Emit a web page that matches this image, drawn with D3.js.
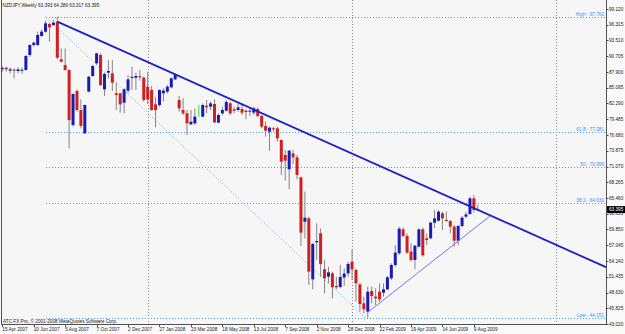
<!DOCTYPE html>
<html>
<head>
<meta charset="utf-8">
<script src="https://cdn.jsdelivr.net/npm/d3@7"></script>
<style>
  html, body { margin: 0; padding: 0; background: #ffffff; }
  svg { display: block; font-family: "Liberation Sans", Arial, sans-serif; }
</style>
</head>
<body>
<div id="chart"></div>
<script>
// weekly NZDJPY bars, one entry per week (index 0 = 15 Apr 2007)
const opens  = [88.40,88.67,88.14,88.32,88.08,88.20,88.26,90.93,92.71,92.71,94.31,95.08,96.45,96.27,96.86,90.16,89.15,88.26,78.46,84.52,
                81.13,76.98,84.40,87.19,89.44,90.93,84.81,87.78,87.66,84.10,84.10,82.44,84.58,86.85,86.89,87.15,86.89,85.29,84.69,82.14,
                82.02,84.10,84.40,85.17,86.59,82.91,81.13,80.54,78.58,78.76,80.90,79.95,81.90,81.73,82.20,78.88,80.54,81.01,82.32,81.25,
                81.13,81.31,81.01,80.84,80.66,81.31,80.06,78.28,77.27,77.87,77.87,75.79,73.12,70.57,73.41,72.70,69.14,61.24,61.84,50.97,
                57.56,59.17,52.76,51.45,52.04,49.79,49.61,51.30,52.04,54.12,52.64,50.09,46.70,45.22,48.90,47.89,48.78,48.60,49.19,51.15,
                53.53,55.61,59.88,58.69,55.91,54.42,56.79,59.88,58.28,58.28,61.07,61.42,62.73,61.54,61.36,60.35,57.86,60.47,62.14,62.61,
                65.40,63.393];
const highs  = [88.85,88.85,88.73,88.55,88.73,88.73,90.93,92.83,93.30,95.08,95.50,97.04,96.68,97.16,97.76,92.11,92.11,88.37,84.10,84.81,
                83.03,82.14,87.19,89.15,91.34,91.22,87.78,90.04,90.04,86.00,84.22,84.99,87.37,88.85,87.78,88.26,87.07,87.96,85.41,83.39,
                84.81,84.99,85.59,86.95,87.66,83.63,83.21,81.13,81.13,81.43,82.02,82.32,82.91,82.62,83.03,80.54,81.73,82.91,82.62,81.73,
                82.32,82.32,81.25,81.43,81.73,81.55,80.24,79.05,78.16,78.16,78.16,75.91,74.01,74.01,74.01,73.12,69.26,66.59,62.14,57.51,
                60.95,60.06,54.42,53.23,52.34,51.45,53.53,52.93,54.12,56.32,52.93,50.26,47.89,49.67,49.67,49.37,50.26,50.26,51.57,53.83,
                57.09,60.35,60.24,59.17,57.39,57.09,60.06,60.24,59.17,61.25,63.32,63.32,63.03,63.03,61.54,60.65,60.65,62.25,63.03,65.70,
                65.99,64.286];
const lows   = [87.96,87.96,87.66,86.77,87.66,87.54,88.14,90.63,92.41,92.53,94.19,94.91,93.30,96.09,90.16,89.56,88.14,74.31,78.16,80.84,
                77.87,76.86,84.28,87.07,89.15,85.41,83.63,86.77,84.52,81.13,80.66,80.54,84.10,84.69,84.69,86.36,82.62,82.20,81.01,78.05,
                81.73,82.62,84.10,85.00,86.48,80.84,80.24,76.68,78.46,78.46,79.95,79.83,80.54,81.13,78.76,78.76,80.24,80.84,80.24,80.54,
                80.84,80.24,79.47,80.06,80.24,79.83,77.87,76.38,73.89,77.27,75.49,69.56,68.55,67.00,71.51,68.79,56.91,58.28,49.97,49.19,
                54.42,51.45,48.48,50.26,47.59,49.19,49.40,49.79,51.45,50.86,46.99,45.22,44.92,44.151,46.70,46.40,46.99,47.89,49.08,50.86,
                53.23,55.31,58.46,55.49,54.12,52.76,56.62,55.01,57.09,58.10,60.06,61.25,59.76,61.25,59.17,56.79,57.09,60.24,61.84,62.43,
                62.85,63.317];
const closes = [88.65,88.37,88.37,88.20,88.37,88.30,90.75,92.71,93.12,94.49,95.08,96.57,95.85,96.68,90.45,89.74,88.26,79.35,83.98,81.13,
                78.28,82.02,87.07,88.97,91.22,85.58,87.54,88.08,86.00,83.80,82.14,84.81,86.59,87.05,87.19,86.95,82.91,83.03,81.13,81.13,
                84.69,84.58,85.29,86.77,87.54,81.43,80.54,78.76,79.05,79.95,80.90,82.02,81.61,82.32,78.94,80.24,81.13,82.56,80.54,81.01,
                81.61,80.66,80.78,81.01,81.43,80.06,78.16,77.45,77.99,77.69,76.09,71.93,72.11,73.89,72.70,69.56,59.29,61.96,52.34,57.27,
                57.80,53.71,51.15,52.22,49.55,49.55,51.39,52.00,53.71,52.76,50.26,46.58,45.63,48.78,48.01,47.59,47.41,49.19,51.33,53.53,
                55.73,60.00,58.69,55.73,54.42,56.97,59.88,55.25,57.98,61.07,61.84,63.03,61.84,61.36,60.35,57.86,60.47,61.96,62.55,65.40,
                63.32,63.395];

// time axis labels, every 8th bar
const timeLabels = ["15 Apr 2007","10 Jun 2007","5 Aug 2007","7 Oct 2007","2 Dec 2007","27 Jan 2008","23 Mar 2008","18 May 2008",
                    "13 Jul 2008","7 Sep 2008","2 Nov 2008","28 Dec 2008","22 Feb 2009","19 Apr 2009","14 Jun 2009","9 Aug 2009"];
const timeLabelBars = [0,8,16,24,32,40,48,56,64,72,80,88,96,104,112,120];
const yearGridBars = [37, 89, 141];

// price axis labels
const priceTicks = [99.120,96.315,93.510,90.705,87.900,85.095,82.290,79.485,76.680,73.875,71.070,
                    68.265,65.460,62.655,59.850,57.045,54.240,51.435,48.630,45.825,43.020];

// fibonacci object
const fibBars = [11, 92.3];
const fibHigh = 97.760, fibLow = 44.151;
const fibRatios = [1, 0.618, 0.5, 0.382, 0];
const fibNames = ["High", "61.8", "50", "38.2", "Low"];

// trend lines (bar index, price)
const trendBars = [14, 141];
const trendPrices = [96.86, 57.09];
const supportBars = [93.1, 124.1];
const supportPrices = [45.16, 62.25];

const title = "NZDJPY,Weekly  63.393 64.286 63.317 63.395";
const lastPrice = 63.395;

const width = 625, height = 334;
const plotRight = 606, plotBottom = 325;
const fmt = d3.format(".3f");

const x = d3.scaleLinear().domain([0, 121]).range([2.3, 477.8]);
const y = d3.scaleLinear().domain([43.02, 99.12]).range([324, 9]);

const svg = d3.select("#chart").append("svg")
    .attr("width", width)
    .attr("height", height)
    .style("font-size", "4.7px");

svg.append("rect").attr("width", width).attr("height", height).attr("fill", "#f9f9f9");
svg.append("rect").attr("x", 1.5).attr("y", 0).attr("width", plotRight - 1.5).attr("height", plotBottom).attr("fill", "#f6f6f6");

const plot = svg.append("g");

// yearly vertical grid
plot.selectAll("line.grid")
  .data(yearGridBars)
  .join("line")
    .attr("x1", d => Math.round(x(d)) + 0.5)
    .attr("x2", d => Math.round(x(d)) + 0.5)
    .attr("y1", 0)
    .attr("y2", plotBottom)
    .attr("stroke", "#8a8a8a")
    .attr("stroke-dasharray", "1,2");

// fib levels
const fibX0 = x(fibBars[0]);
const fibVals = fibRatios.map(r => fibLow + r * (fibHigh - fibLow));
plot.selectAll("line.fib")
  .data(fibVals)
  .join("line")
    .attr("x1", Math.round(fibX0))
    .attr("x2", plotRight)
    .attr("y1", d => Math.round(y(d)) + 0.5)
    .attr("y2", d => Math.round(y(d)) + 0.5)
    .attr("stroke", "#4797ff")
    .attr("stroke-dasharray", "1,2");

plot.selectAll("text.fib")
  .data(fibVals)
  .join("text")
    .attr("x", 604)
    .attr("y", d => y(d) - 0.8)
    .attr("text-anchor", "end")
    .attr("fill", "#3b8ff5")
    .text((d, i) => `${fibNames[i]} - ${fmt(d)}`);

plot.append("line")
    .attr("x1", x(fibBars[0])).attr("y1", y(fibHigh))
    .attr("x2", x(fibBars[1])).attr("y2", y(fibLow))
    .attr("stroke", "#5fa6ff")
    .attr("stroke-dasharray", "1,2");

// candles
const bars = d3.range(opens.length);
const candle = plot.selectAll("g.candle")
  .data(bars)
  .join("g");

const isDoji = i => opens[i] === closes[i];
candle.append("line")
    .attr("x1", i => x(i)).attr("x2", i => x(i))
    .attr("y1", i => y(highs[i])).attr("y2", i => y(lows[i]))
    .attr("stroke", i => isDoji(i) ? "#2ee02e" : "#858585")
    .attr("stroke-width", 1);

candle.filter(i => !isDoji(i)).append("rect")
    .attr("x", i => x(i) - 1.5)
    .attr("width", 3)
    .attr("y", i => y(Math.max(opens[i], closes[i])))
    .attr("height", i => Math.max(1, Math.abs(y(opens[i]) - y(closes[i]))))
    .attr("fill", i => closes[i] > opens[i] ? "#1a1ab8" : "#cf1f1f");

// trend lines
const trendSlope = (y(trendPrices[1]) - y(trendPrices[0])) / (x(trendBars[1]) - x(trendBars[0]));
plot.append("line")
    .attr("x1", x(trendBars[0])).attr("y1", y(trendPrices[0]))
    .attr("x2", plotRight).attr("y2", y(trendPrices[0]) + trendSlope * (plotRight - x(trendBars[0])))
    .attr("stroke", "#1f1fc8")
    .attr("stroke-width", 1.8);

plot.append("line")
    .attr("x1", x(supportBars[0])).attr("y1", y(supportPrices[0]))
    .attr("x2", x(supportBars[1])).attr("y2", y(supportPrices[1]))
    .attr("stroke", "#7474ee")
    .attr("stroke-width", 1);

// frame
svg.append("path")
    .attr("d", `M1.5,0V${plotBottom - 0.5}H${plotRight + 0.5}V0`)
    .attr("fill", "none")
    .attr("stroke", "#505050");

// price axis
const pAxis = svg.append("g");
pAxis.selectAll("line")
  .data(priceTicks)
  .join("line")
    .attr("x1", plotRight).attr("x2", plotRight + 2.5)
    .attr("y1", d => Math.round(y(d)) + 0.5).attr("y2", d => Math.round(y(d)) + 0.5)
    .attr("stroke", "#505050");
pAxis.selectAll("text")
  .data(priceTicks)
  .join("text")
    .attr("x", 609)
    .attr("y", d => y(d) + 1.7)
    .attr("fill", "#222")
    .text(d => fmt(d));

pAxis.append("rect")
    .attr("x", 607).attr("y", y(lastPrice) - 3.5)
    .attr("width", 18).attr("height", 7)
    .attr("fill", "#000");
pAxis.append("text")
    .attr("x", 609).attr("y", y(lastPrice) + 1.7)
    .attr("fill", "#fff")
    .text(fmt(lastPrice));

// time axis
const tAxis = svg.append("g");
tAxis.selectAll("line")
  .data(timeLabelBars)
  .join("line")
    .attr("x1", d => Math.round(x(d)) + 0.5).attr("x2", d => Math.round(x(d)) + 0.5)
    .attr("y1", plotBottom).attr("y2", plotBottom + 2)
    .attr("stroke", "#505050");
tAxis.selectAll("text")
  .data(timeLabelBars)
  .join("text")
    .attr("x", d => x(d))
    .attr("y", 331)
    .attr("fill", "#222")
    .text((d, i) => timeLabels[i]);

// title and copyright
svg.append("text").attr("x", 2.5).attr("y", 6.5).attr("fill", "#222").text(title);
svg.append("text").attr("x", 3).attr("y", 322.5).attr("fill", "#222")
    .text("ATC FX Pro, \u00a9 2001-2008 MetaQuotes Software Corp.");
</script>
</body>
</html>
